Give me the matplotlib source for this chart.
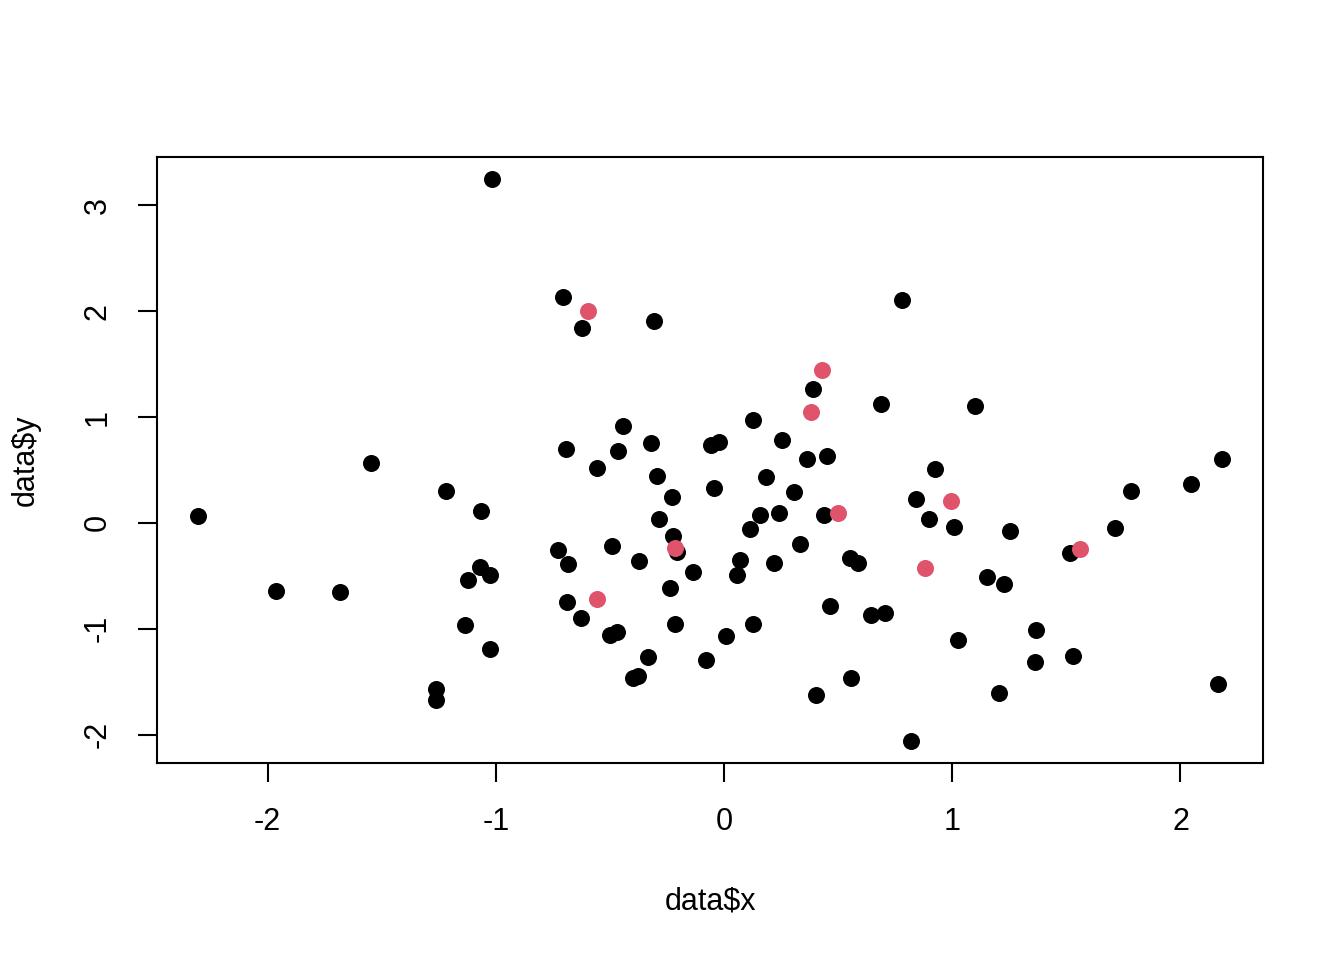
import matplotlib
matplotlib.use('Agg')
import matplotlib.pyplot as plt

plt.rcParams['font.family'] = ['Liberation Sans', 'DejaVu Sans']
plt.rcParams['axes.unicode_minus'] = False

# puntos en negro
x_negro = [-2.305, -1.963, -1.682, -1.546, -1.261, -1.261, -1.217, -1.134, -1.121, -1.068,
           -1.064, -1.024, -1.024, -1.015, -0.726, -0.704, -0.691, -0.683, -0.686, -0.625,
           -0.622, -0.555, -0.498, -0.489, -0.468, -0.464, -0.442, -0.398, -0.375, -0.371,
           -0.331, -0.322, -0.305, -0.293, -0.283, -0.227, -0.223, -0.205, -0.235, -0.217,
           -0.138, -0.081, -0.059, -0.024, -0.042, 0.007, 0.055, 0.072, 0.112, 0.125,
           0.129, 0.156, 0.182, 0.217, 0.242, 0.255, 0.305, 0.331, 0.362, 0.388,
           0.401, 0.436, 0.450, 0.463, 0.550, 0.555, 0.586, 0.646, 0.686, 0.704,
           0.779, 0.818, 0.840, 0.897, 0.923, 1.007, 1.027, 1.099, 1.150, 1.204,
           1.225, 1.255, 1.362, 1.369, 1.515, 1.529, 1.713, 1.783, 2.046, 2.164, 2.182]
y_negro = [0.066, -0.642, -0.651, 0.566, -1.566, -1.676, 0.305, -0.969, -0.538, -0.415,
           0.113, -0.497, -1.189, 3.245, -0.261, 2.132, 0.698, -0.387, -0.745, -0.903,
           1.840, 0.519, -1.057, -0.217, -1.028, 0.682, 0.915, -1.469, -1.450, -0.356,
           -1.264, 0.755, 1.906, 0.443, 0.038, 0.248, -0.123, -0.271, -0.620, -0.953,
           -0.462, -1.292, 0.736, 0.764, 0.330, -1.066, -0.491, -0.349, -0.057, 0.972,
           -0.953, 0.075, 0.434, -0.377, 0.094, 0.783, 0.292, -0.198, 0.604, 1.261,
           -1.623, 0.078, 0.632, -0.790, -0.330, -1.462, -0.377, -0.868, 1.127, -0.849,
           2.104, -2.057, 0.229, 0.038, 0.509, -0.038, -1.104, 1.104, -0.507, -1.604,
           -0.575, -0.075, -1.318, -1.016, -0.283, -1.255, -0.047, 0.302, 0.368, -1.519, 0.604]

# puntos destacados en rojo
x_rojo = [-0.596, -0.556, -0.217, 0.379, 0.428, 0.501, 0.879, 0.993, 1.559]
y_rojo = [2.000, -0.717, -0.242, 1.047, 1.443, 0.097, -0.425, 0.210, -0.245]

fig = plt.figure(figsize=(13.44, 9.6), dpi=100)
ax = fig.add_axes([157/1344, 1 - 763/960, (1263 - 157)/1344, (763 - 157)/960])

ax.scatter(x_negro, y_negro, s=150, color='black', linewidths=0, zorder=3)
ax.scatter(x_rojo, y_rojo, s=150, color='#DF536B', linewidths=0, zorder=4)

# limites estilo R (4% extra)
todos_x = x_negro + x_rojo
todos_y = y_negro + y_rojo
rx = max(todos_x) - min(todos_x)
ry = max(todos_y) - min(todos_y)
ax.set_xlim(min(todos_x) - 0.04 * rx, max(todos_x) + 0.04 * rx)
ax.set_ylim(min(todos_y) - 0.04 * ry, max(todos_y) + 0.04 * ry)

ax.set_xticks([-2, -1, 0, 1, 2])
ax.set_yticks([-2, -1, 0, 1, 2, 3])
ax.tick_params(direction='out', length=14, width=1.5, labelsize=22, pad=18)
ax.tick_params(axis='y', labelrotation=90)
for lbl in ax.get_yticklabels():
    lbl.set_va('center')

for s in ax.spines.values():
    s.set_linewidth(1.5)

ax.set_xlabel('data$x', fontsize=22, labelpad=35)
ax.set_ylabel('data$y', fontsize=22, labelpad=30)

fig.savefig('out.png', dpi=100)
